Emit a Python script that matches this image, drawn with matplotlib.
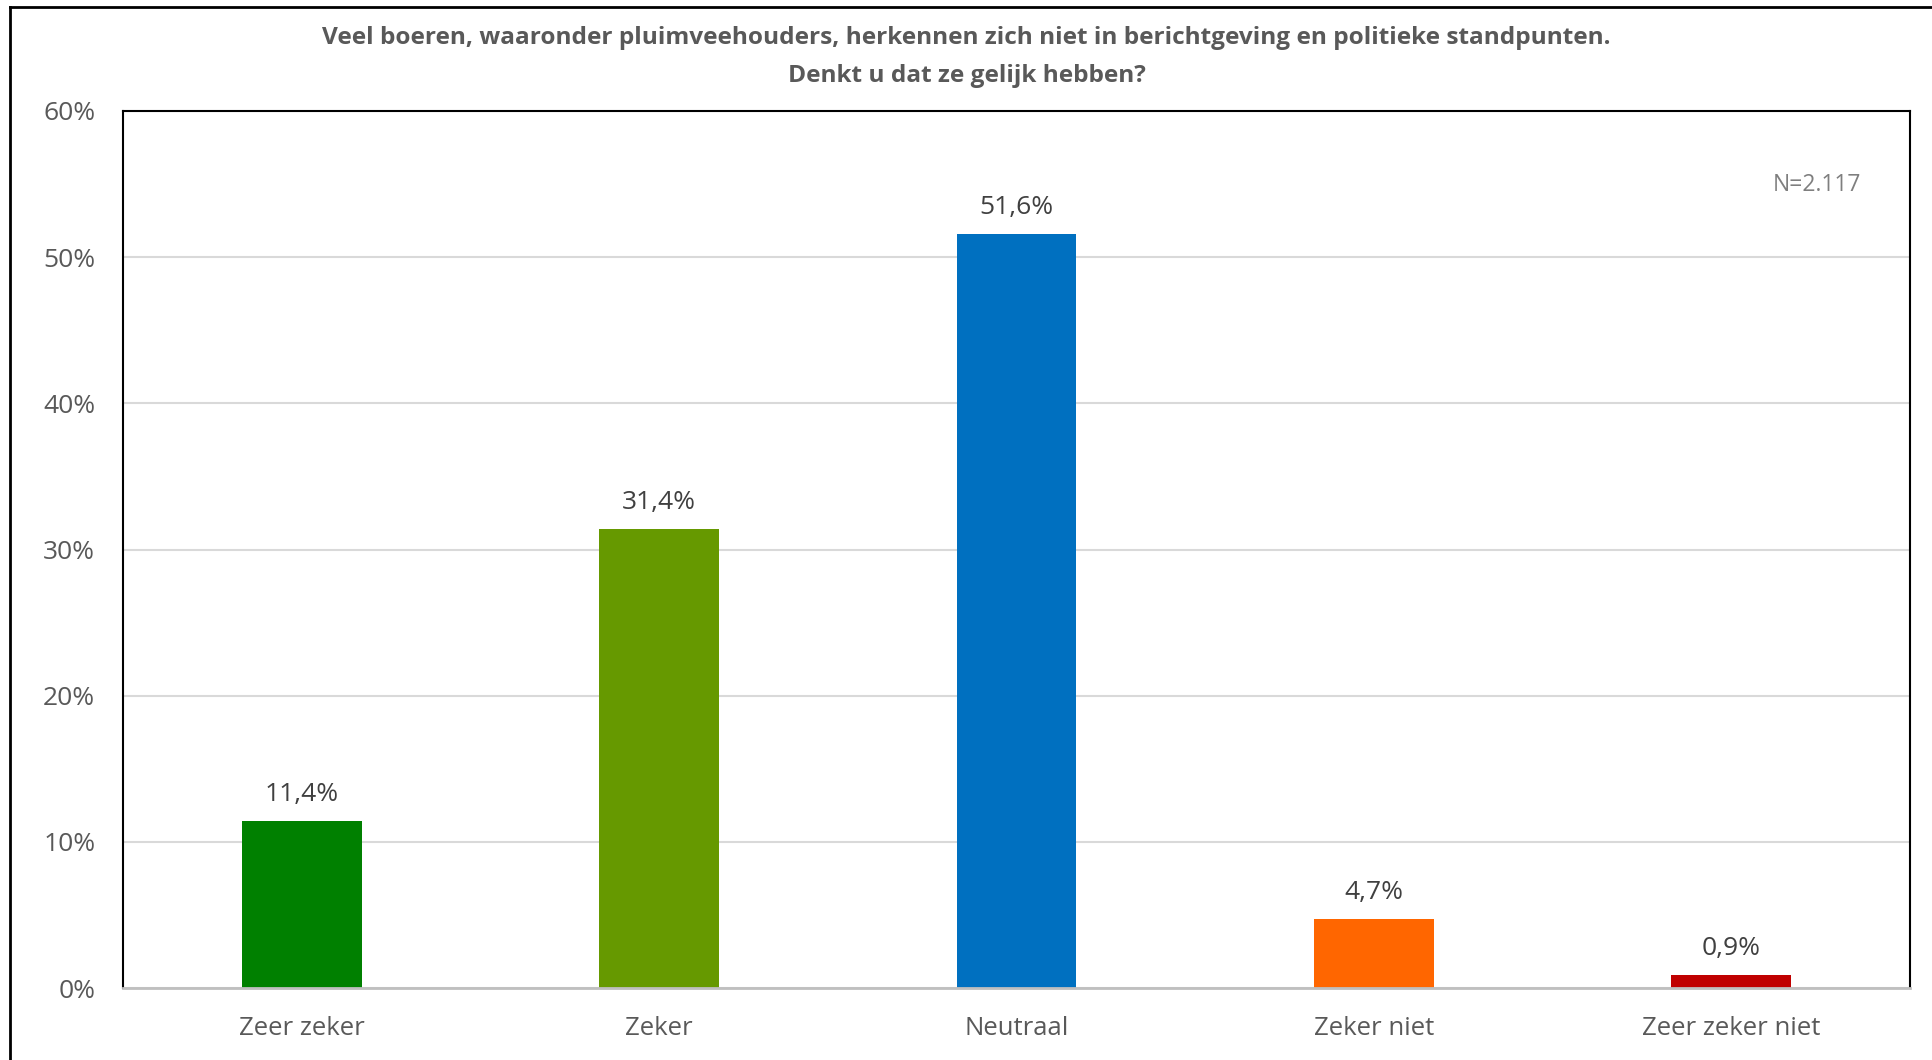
import matplotlib.pyplot as plt
from matplotlib.lines import Line2D
from matplotlib.ticker import FuncFormatter

categories = ["Zeer zeker", "Zeker", "Neutraal", "Zeker niet", "Zeer zeker niet"]
values = [11.4, 31.4, 51.6, 4.7, 0.9]
colors = ["#008000", "#669900", "#0070C0", "#FF6600", "#C00000"]
title = ("Veel boeren, waaronder pluimveehouders, herkennen zich niet in berichtgeving en politieke standpunten.\n"
         "Denkt u dat ze gelijk hebben?")
note = "N=2.117"

plt.rcParams["font.family"] = ["Open Sans", "DejaVu Sans"]

W, H = 1933, 1060
fig = plt.figure(figsize=(W / 100, H / 100), dpi=100)
ax = fig.add_axes([123 / W, 1 - 988 / H, (1910 - 123) / W, (988 - 111) / H])

x = range(len(categories))
ax.bar(x, values, width=0.335, color=colors, zorder=3)
for xi, v in zip(x, values):
    ax.annotate(f"{v:.1f}%".replace(".", ","), (xi, v), xytext=(0, 10), textcoords="offset points",
                ha="center", va="bottom", fontsize=19, color="#404040")

ax.set_xlim(-0.5, len(categories) - 0.5)
ax.set_ylim(0, 60)
ax.set_yticks(range(0, 61, 10))
ax.yaxis.set_major_formatter(FuncFormatter(lambda v, _: f"{v:.0f}%"))
ax.set_xticks(list(x))
ax.set_xticklabels(categories)
ax.tick_params(axis="y", length=0, labelsize=19, labelcolor="#595959", pad=20)
ax.tick_params(axis="x", length=0, labelsize=18.5, labelcolor="#595959", pad=20.5)
ax.grid(axis="y", color="#D9D9D9", linewidth=1.5, zorder=0)

for side in ["left", "top", "right"]:
    ax.spines[side].set_color("black")
    ax.spines[side].set_linewidth(1.5)
ax.spines["bottom"].set_color("#BFBFBF")
ax.spines["bottom"].set_linewidth(2)
ax.spines["bottom"].set_zorder(4)

ax.text(0.9725, 0.916, note, transform=ax.transAxes, ha="right", va="center", fontsize=16.5, color="#7F7F7F")

fig.text(0.5, 1 - 57 / H, title, ha="center", va="center", fontsize=17.6, fontweight="bold",
         color="#595959", linespacing=1.75)

# outer chart frame (top and left edges visible)
fig.add_artist(Line2D([10 / W, 1], [1 - 7 / H, 1 - 7 / H], transform=fig.transFigure, color="black", linewidth=2))
fig.add_artist(Line2D([10 / W, 10 / W], [0, 1 - 7 / H], transform=fig.transFigure, color="black", linewidth=2))

fig.savefig("out.png", dpi=100, facecolor="white")
